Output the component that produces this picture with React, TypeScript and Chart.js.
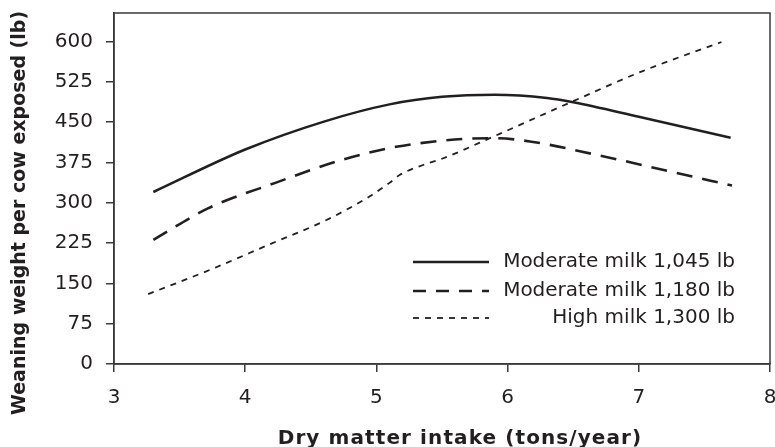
import React, { useEffect, useRef } from "react";
import { Chart, registerables } from "chart.js";

Chart.register(...registerables);

const xModerate1045 = [3.3, 4.0, 4.6, 5.1, 5.5, 5.9, 6.3, 6.5, 7.0, 7.7];
const yModerate1045 = [320, 399, 451, 483, 497, 501, 495, 487, 460, 421];

const xModerate1180 = [3.3, 3.72, 4.23, 4.74, 5.15, 5.48, 5.68, 5.91, 6.17, 6.68, 7.19, 7.71];
const yModerate1180 = [231, 290, 337, 380, 404, 415, 419, 420, 414, 389, 361, 332];

const xHigh1300 = [3.26, 3.73, 4.18, 4.62, 4.95, 5.1, 5.18, 5.4, 5.48, 5.91, 6.5, 7.03, 7.63];
const yHigh1300 = [130, 175, 222, 268, 312, 337, 352, 374, 380, 425, 489, 545, 599];

const seriesLabels = ["Moderate milk 1,045 lb", "Moderate milk 1,180 lb", "High milk 1,300 lb"];
const yTickValues = [0, 75, 150, 225, 300, 375, 450, 525, 600];
const xTitle = "Dry matter intake (tons/year)";
const yTitle = "Weaning weight per cow exposed (lb)";

const INK = "#231f20";
const AXIS = "#3a3a3a";
const FONT = "'DejaVu Sans', sans-serif";

const zip = (xs: number[], ys: number[]) => xs.map((x, i) => ({ x, y: ys[i] }));

const framePlugin = {
  id: "frameAndText",
  afterDraw(chart: any) {
    const { ctx, chartArea } = chart;
    ctx.save();
    ctx.strokeStyle = AXIS;
    ctx.lineWidth = 1.5;
    ctx.strokeRect(chartArea.left, chartArea.top, chartArea.right - chartArea.left, chartArea.bottom - chartArea.top);

    // axis titles
    ctx.fillStyle = INK;
    ctx.font = `bold 20px ${FONT}`;
    ctx.textAlign = "center";
    ctx.textBaseline = "alphabetic";
    (ctx as any).letterSpacing = "1.1px";
    ctx.fillText(xTitle, 460, 443.5);
    (ctx as any).letterSpacing = "0px";
    ctx.font = `bold 19px ${FONT}`;
    ctx.save();
    ctx.translate(25, 213);
    ctx.rotate(-Math.PI / 2);
    ctx.fillText(yTitle, 0, 0);
    ctx.restore();

    // legend
    const rows = [262, 291, 318];
    ctx.font = `20px ${FONT}`;
    ctx.textAlign = "right";
    ctx.textBaseline = "middle";
    chart.data.datasets.forEach((ds: any, i: number) => {
      const y = rows[i];
      ctx.beginPath();
      ctx.setLineDash(ds.legendDash || []);
      ctx.lineWidth = ds.borderWidth;
      ctx.strokeStyle = ds.borderColor;
      ctx.moveTo(413, y);
      ctx.lineTo(489, y);
      ctx.stroke();
      ctx.setLineDash([]);
      ctx.fillStyle = INK;
      ctx.fillText(ds.label, 735, y);
    });
    ctx.restore();
  },
};

export default function App() {
  const ref = useRef<HTMLCanvasElement>(null);
  useEffect(() => {
    document.body.style.margin = "0";
    const chart = new Chart(ref.current!, {
      type: "line",
      data: {
        datasets: [
          {
            label: seriesLabels[0],
            data: zip(xModerate1045, yModerate1045),
            borderColor: INK,
            borderWidth: 2.5,
            pointRadius: 0,
            cubicInterpolationMode: "monotone",
            legendDash: [],
          } as any,
          {
            label: seriesLabels[1],
            data: zip(xModerate1180, yModerate1180),
            borderColor: INK,
            borderWidth: 2.6,
            borderDash: [16, 10],
            pointRadius: 0,
            cubicInterpolationMode: "monotone",
            legendDash: [13, 10],
          } as any,
          {
            label: seriesLabels[2],
            data: zip(xHigh1300, yHigh1300),
            borderColor: INK,
            borderWidth: 1.8,
            borderDash: [6, 6],
            pointRadius: 0,
            cubicInterpolationMode: "monotone",
            legendDash: [6, 6],
          } as any,
        ],
      },
      options: {
        animation: false,
        responsive: true,
        maintainAspectRatio: false,
        layout: { padding: { top: 13, right: 5, left: 0, bottom: 0 } },
        plugins: { legend: { display: false }, tooltip: { enabled: false } },
        scales: {
          x: {
            type: "linear",
            min: 3,
            max: 8,
            ticks: { stepSize: 1, color: INK, font: { family: FONT, size: 20 }, padding: 14, maxRotation: 0 },
            grid: { display: true, drawOnChartArea: false, drawTicks: true, tickLength: 8, color: AXIS, lineWidth: 1.5 },
            border: { display: true, color: AXIS, width: 1.5 },
            afterFit: (s: any) => { s.height = 83; s.paddingLeft = 0; s.paddingRight = 0; },
          },
          y: {
            type: "linear",
            min: 0,
            max: 653,
            afterBuildTicks: (s: any) => { s.ticks = yTickValues.map((v) => ({ value: v })); },
            ticks: { color: INK, font: { family: FONT, size: 20 }, padding: 13 },
            grid: { display: true, drawOnChartArea: false, drawTicks: true, tickLength: 8, color: AXIS, lineWidth: 1.5 },
            border: { display: true, color: AXIS, width: 1.5 },
            afterFit: (s: any) => { s.width = 114; s.paddingTop = 0; s.paddingBottom = 0; },
          },
        },
      },
      plugins: [framePlugin],
    });
    return () => chart.destroy();
  }, []);
  return (
    <div style={{ width: 775, height: 447, position: "relative" }}>
      <canvas ref={ref} />
    </div>
  );
}
